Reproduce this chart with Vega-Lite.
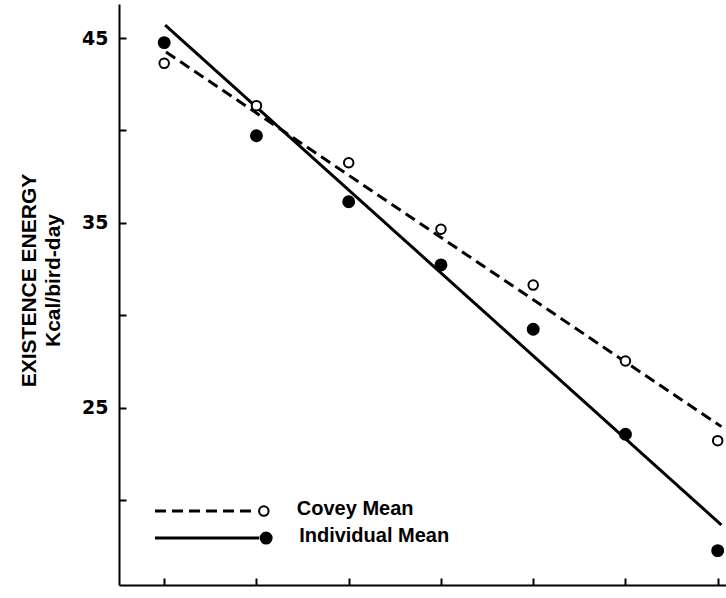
{
  "$schema": "https://vega.github.io/schema/vega-lite/v6.json",
  "width": 607,
  "height": 581,
  "autosize": {"type": "none"},
  "padding": {"left": 119, "top": 4, "right": 0, "bottom": 13},
  "background": "white",
  "config": {"view": {"stroke": null}, "font": "Liberation Sans"},
  "datasets": {
    "points": [
      {"series": "Covey Mean", "x": 1, "y": 43.63},
      {"series": "Covey Mean", "x": 2, "y": 41.34},
      {"series": "Covey Mean", "x": 3, "y": 38.25},
      {"series": "Covey Mean", "x": 4, "y": 34.65},
      {"series": "Covey Mean", "x": 5, "y": 31.63},
      {"series": "Covey Mean", "x": 6, "y": 27.52},
      {"series": "Covey Mean", "x": 7, "y": 23.21},
      {"series": "Individual Mean", "x": 1, "y": 44.75},
      {"series": "Individual Mean", "x": 2, "y": 39.71},
      {"series": "Individual Mean", "x": 3, "y": 36.14},
      {"series": "Individual Mean", "x": 4, "y": 32.72},
      {"series": "Individual Mean", "x": 5, "y": 29.24},
      {"series": "Individual Mean", "x": 6, "y": 23.56},
      {"series": "Individual Mean", "x": 7, "y": 17.26}
    ],
    "fits": [
      {"series": "Covey Mean", "x": 1.02, "y": 44.24},
      {"series": "Covey Mean", "x": 7.04, "y": 23.97},
      {"series": "Individual Mean", "x": 1.01, "y": 45.7},
      {"series": "Individual Mean", "x": 7.04, "y": 18.65}
    ],
    "legendLines": [
      {"series": "Covey Mean", "x": 0.9, "y": 19.4},
      {"series": "Covey Mean", "x": 2.0, "y": 19.4},
      {"series": "Individual Mean", "x": 0.9, "y": 17.94},
      {"series": "Individual Mean", "x": 2.03, "y": 17.94}
    ],
    "legendPoints": [
      {"series": "Covey Mean", "x": 2.08, "y": 19.4, "label": "Covey Mean"},
      {"series": "Individual Mean", "x": 2.105, "y": 17.94, "label": "Individual Mean"}
    ]
  },
  "encoding": {
    "x": {
      "field": "x",
      "type": "quantitative",
      "scale": {"domain": [0.51, 7.09], "nice": false, "zero": false},
      "axis": {
        "orient": "bottom",
        "title": null,
        "labels": false,
        "grid": false,
        "values": [1, 2, 3, 4, 5, 6, 7],
        "ticks": true,
        "tickSize": -7,
        "tickWidth": 2,
        "tickColor": "black",
        "domainColor": "black",
        "domainWidth": 2
      }
    },
    "y": {
      "field": "y",
      "type": "quantitative",
      "scale": {"domain": [15.4, 46.84], "nice": false, "zero": false},
      "axis": {
        "orient": "left",
        "title": ["EXISTENCE ENERGY", "Kcal/bird-day"],
        "titleFont": "Liberation Sans",
        "titleFontSize": 21,
        "titleFontWeight": "bold",
        "titleColor": "black",
        "titlePadding": 18,
        "titleY": 276,
        "titleLineHeight": 24,
        "grid": false,
        "values": [20, 25, 30, 35, 40, 45],
        "labelExpr": "datum.value % 10 == 5 ? datum.label : ''",
        "labelFont": "DejaVu Sans",
        "labelFontSize": 19,
        "labelFontWeight": "bold",
        "labelColor": "black",
        "labelPadding": 18,
        "ticks": true,
        "tickSize": -7,
        "tickWidth": 2,
        "tickColor": "black",
        "domainColor": "black",
        "domainWidth": 2
      }
    }
  },
  "layer": [
    {
      "data": {"name": "fits"},
      "mark": {"type": "line", "color": "black", "strokeWidth": 3},
      "encoding": {
        "detail": {"field": "series"},
        "strokeDash": {
          "field": "series",
          "type": "nominal",
          "scale": {"domain": ["Covey Mean", "Individual Mean"], "range": [[11, 6], [1, 0]]},
          "legend": null
        }
      }
    },
    {
      "data": {"name": "legendLines"},
      "mark": {"type": "line", "color": "black", "strokeWidth": 3},
      "encoding": {
        "detail": {"field": "series"},
        "strokeDash": {
          "field": "series",
          "type": "nominal",
          "scale": {"domain": ["Covey Mean", "Individual Mean"], "range": [[11, 6], [1, 0]]},
          "legend": null
        }
      }
    },
    {
      "data": {"name": "points"},
      "mark": {"type": "point", "shape": "circle", "filled": false, "stroke": "black", "strokeWidth": 2, "opacity": 1},
      "encoding": {
        "fill": {
          "field": "series",
          "type": "nominal",
          "scale": {"domain": ["Covey Mean", "Individual Mean"], "range": ["white", "black"]},
          "legend": null
        },
        "size": {
          "field": "series",
          "type": "nominal",
          "scale": {"domain": ["Covey Mean", "Individual Mean"], "range": [90, 120]},
          "legend": null
        }
      }
    },
    {
      "data": {"name": "legendPoints"},
      "mark": {"type": "point", "shape": "circle", "filled": false, "stroke": "black", "strokeWidth": 2, "opacity": 1},
      "encoding": {
        "fill": {
          "field": "series",
          "type": "nominal",
          "scale": {"domain": ["Covey Mean", "Individual Mean"], "range": ["white", "black"]},
          "legend": null
        },
        "size": {
          "field": "series",
          "type": "nominal",
          "scale": {"domain": ["Covey Mean", "Individual Mean"], "range": [60, 120]},
          "legend": null
        }
      }
    },
    {
      "data": {"name": "legendPoints"},
      "mark": {"type": "text", "align": "left", "baseline": "middle", "dx": 33, "dy": -2, "fontSize": 20, "fontWeight": "bold", "color": "black"},
      "encoding": {
        "text": {"field": "label"}
      }
    }
  ]
}
